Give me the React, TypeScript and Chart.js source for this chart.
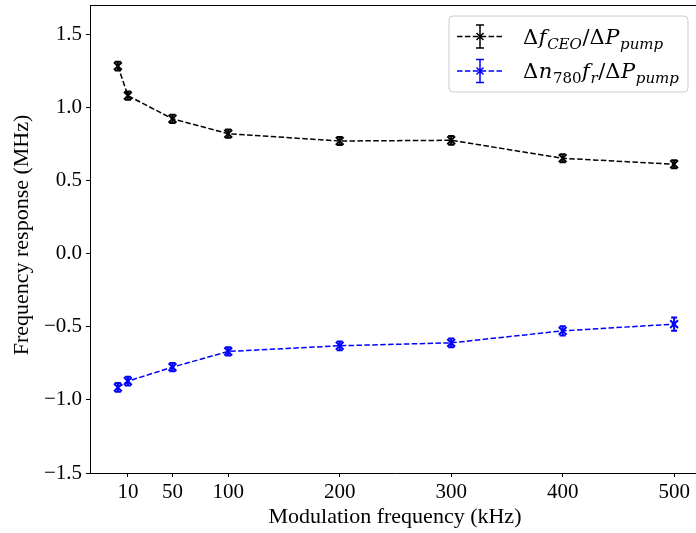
import React, { useEffect, useRef } from "react";
import { Chart, registerables } from "chart.js";
Chart.register(...registerables);

const freqs = [1, 10, 50, 100, 200, 300, 400, 500];
const ceoValues = [1.282, 1.08, 0.922, 0.82, 0.77, 0.775, 0.652, 0.611];
const ceoErrors = [0.03, 0.028, 0.028, 0.028, 0.028, 0.03, 0.028, 0.028];
const repValues = [-0.915, -0.872, -0.776, -0.669, -0.63, -0.61, -0.528, -0.482];
const repErrors = [0.03, 0.03, 0.028, 0.028, 0.03, 0.03, 0.032, 0.045];
const xTicks = [10, 50, 100, 200, 300, 400, 500];
const yTicks = [-1.5, -1.0, -0.5, 0, 0.5, 1.0, 1.5];
const xTitle = "Modulation frequency (kHz)";
const yTitle = "Frequency response (MHz)";
const ceoColor = "#000000";
const repColor = "#0000ff";

const FAMILY = "'Liberation Serif', 'DejaVu Serif', serif";
const MATH_FAMILY = "'DejaVu Serif', serif";

type Part = { t: string; italic?: boolean; sub?: boolean };
const ceoLabel: Part[] = [
  { t: "Δ" },
  { t: "f", italic: true },
  { t: "CEO", italic: true, sub: true },
  { t: "/Δ" },
  { t: "P", italic: true },
  { t: "pump", italic: true, sub: true },
];
const repLabel: Part[] = [
  { t: "Δ" },
  { t: "n", italic: true },
  { t: "780", sub: true },
  { t: "f", italic: true },
  { t: "r", italic: true, sub: true },
  { t: "/Δ" },
  { t: "P", italic: true },
  { t: "pump", italic: true, sub: true },
];

function drawMath(ctx: CanvasRenderingContext2D, x: number, y: number, parts: Part[], color: string) {
  ctx.fillStyle = color;
  ctx.textAlign = "left";
  ctx.textBaseline = "alphabetic";
  for (const p of parts) {
    ctx.font = `${p.italic ? "italic " : ""}${p.sub ? 15 : 21}px ${MATH_FAMILY}`;
    ctx.fillText(p.t, x, y + (p.sub ? 5 : 0));
    x += ctx.measureText(p.t).width + 0.6;
  }
}

function drawErrorHandle(ctx: CanvasRenderingContext2D, cx: number, cy: number, color: string) {
  ctx.save();
  ctx.strokeStyle = color;
  ctx.lineWidth = 1.5;
  ctx.setLineDash([5.5, 2.4]);
  ctx.beginPath();
  ctx.moveTo(cx - 23, cy);
  ctx.lineTo(cx + 23, cy);
  ctx.stroke();
  ctx.setLineDash([]);
  ctx.beginPath();
  ctx.moveTo(cx, cy - 11.5);
  ctx.lineTo(cx, cy + 11.5);
  ctx.moveTo(cx - 4, cy - 11.5);
  ctx.lineTo(cx + 4, cy - 11.5);
  ctx.moveTo(cx - 4, cy + 11.5);
  ctx.lineTo(cx + 4, cy + 11.5);
  const r = 3.5;
  ctx.moveTo(cx - r, cy - r);
  ctx.lineTo(cx + r, cy + r);
  ctx.moveTo(cx - r, cy + r);
  ctx.lineTo(cx + r, cy - r);
  ctx.stroke();
  ctx.restore();
}

const customPlugin = {
  id: "custom",
  afterDatasetsDraw(chart: any) {
    const ctx = chart.ctx as CanvasRenderingContext2D;
    const xs = chart.scales.x;
    const ys = chart.scales.y;
    chart.data.datasets.forEach((ds: any) => {
      ctx.save();
      ctx.strokeStyle = ds.borderColor;
      ctx.lineWidth = 2;
      ds.data.forEach((pt: any, i: number) => {
        const e = ds.errors[i];
        const px = xs.getPixelForValue(pt.x);
        const y1 = ys.getPixelForValue(pt.y + e);
        const y2 = ys.getPixelForValue(pt.y - e);
        ctx.beginPath();
        ctx.moveTo(px, y1);
        ctx.lineTo(px, y2);
        ctx.moveTo(px - 3, y1);
        ctx.lineTo(px + 3, y1);
        ctx.moveTo(px - 3, y2);
        ctx.lineTo(px + 3, y2);
        ctx.stroke();
      });
      ctx.restore();
    });
  },
  afterDraw(chart: any) {
    const ctx = chart.ctx as CanvasRenderingContext2D;
    const a = chart.chartArea;
    ctx.save();
    // top spine
    ctx.strokeStyle = "#000";
    ctx.lineWidth = 1;
    ctx.beginPath();
    ctx.moveTo(a.left, a.top + 0.5);
    ctx.lineTo(a.right, a.top + 0.5);
    ctx.stroke();

    // axis titles
    ctx.fillStyle = "#000";
    ctx.font = `22px ${FAMILY}`;
    ctx.textAlign = "center";
    ctx.textBaseline = "alphabetic";
    ctx.fillText(xTitle, 395, 523);
    ctx.save();
    ctx.translate(28, 235);
    ctx.rotate(-Math.PI / 2);
    ctx.fillText(yTitle, 0, 0);
    ctx.restore();

    // legend
    const lr = 688;
    const ll = 449;
    const lt = 16;
    const lb = 92;
    const rad = 4;
    ctx.beginPath();
    ctx.moveTo(ll + rad, lt);
    ctx.lineTo(lr - rad, lt);
    ctx.quadraticCurveTo(lr, lt, lr, lt + rad);
    ctx.lineTo(lr, lb - rad);
    ctx.quadraticCurveTo(lr, lb, lr - rad, lb);
    ctx.lineTo(ll + rad, lb);
    ctx.quadraticCurveTo(ll, lb, ll, lb - rad);
    ctx.lineTo(ll, lt + rad);
    ctx.quadraticCurveTo(ll, lt, ll + rad, lt);
    ctx.closePath();
    ctx.fillStyle = "rgba(255,255,255,0.8)";
    ctx.fill();
    ctx.strokeStyle = "#cccccc";
    ctx.lineWidth = 1;
    ctx.stroke();

    drawErrorHandle(ctx, 480, 36.5, ceoColor);
    drawErrorHandle(ctx, 480, 71, repColor);
    drawMath(ctx, 523, 44, ceoLabel, "#000");
    drawMath(ctx, 523, 78, repLabel, "#000");
    ctx.restore();
  },
};

function fmtY(v: number) {
  const s = Math.abs(v).toFixed(1);
  return v < 0 ? "\u2212" + s : s;
}

export default function App() {
  const ref = useRef<HTMLCanvasElement | null>(null);
  useEffect(() => {
    if (!ref.current) return;
    const mk = (vals: number[], errs: number[], label: string, color: string) => ({
      label,
      data: freqs.map((x, i) => ({ x, y: vals[i] })),
      errors: errs,
      borderColor: color,
      backgroundColor: color,
      borderWidth: 1.5,
      borderDash: [5.5, 2.4],
      pointStyle: "crossRot",
      pointRadius: 5.5,
      pointBorderWidth: 2,
      pointBorderColor: color,
      fill: false,
      tension: 0,
    });
    const chart = new Chart(ref.current, {
      type: "line",
      data: {
        datasets: [
          mk(ceoValues, ceoErrors, "ceo", ceoColor) as any,
          mk(repValues, repErrors, "rep", repColor) as any,
        ],
      },
      options: {
        responsive: false,
        animation: false,
        layout: { autoPadding: false, padding: { top: 5, right: 0, left: 0, bottom: 0 } },
        plugins: { legend: { display: false }, tooltip: { enabled: false } },
        scales: {
          x: {
            type: "linear",
            min: -24,
            max: 525,
            afterBuildTicks: (s: any) => {
              s.ticks = xTicks.map((v) => ({ value: v }));
            },
            afterFit: (s: any) => {
              s.height = 60;
              s.paddingLeft = 0;
              s.paddingRight = 0;
            },
            grid: { drawOnChartArea: false, drawTicks: true, tickLength: 4, color: "#000", lineWidth: 1 },
            border: { display: true, color: "#000", width: 1 },
            ticks: {
              font: { family: FAMILY, size: 21 },
              color: "#000",
              padding: 3,
              maxRotation: 0,
              autoSkip: false,
              callback: (v: any) => String(v),
            },
          },
          y: {
            type: "linear",
            min: -1.5,
            max: 1.7,
            afterBuildTicks: (s: any) => {
              s.ticks = yTicks.map((v) => ({ value: v }));
            },
            afterFit: (s: any) => {
              s.width = 90;
              s.paddingTop = 0;
              s.paddingBottom = 0;
            },
            grid: { drawOnChartArea: false, drawTicks: true, tickLength: 4, color: "#000", lineWidth: 1 },
            border: { display: true, color: "#000", width: 1 },
            ticks: {
              font: { family: FAMILY, size: 21 },
              color: "#000",
              padding: 4,
              autoSkip: false,
              callback: (v: any) => fmtY(Number(v)),
            },
          },
        },
      } as any,
      plugins: [customPlugin],
    });
    return () => chart.destroy();
  }, []);
  return (
    <div style={{ position: "absolute", left: 0, top: 0, width: 696, height: 533, overflow: "hidden", background: "#fff" }}>
      <canvas ref={ref} width={702} height={533} style={{ display: "block" }} />
    </div>
  );
}
